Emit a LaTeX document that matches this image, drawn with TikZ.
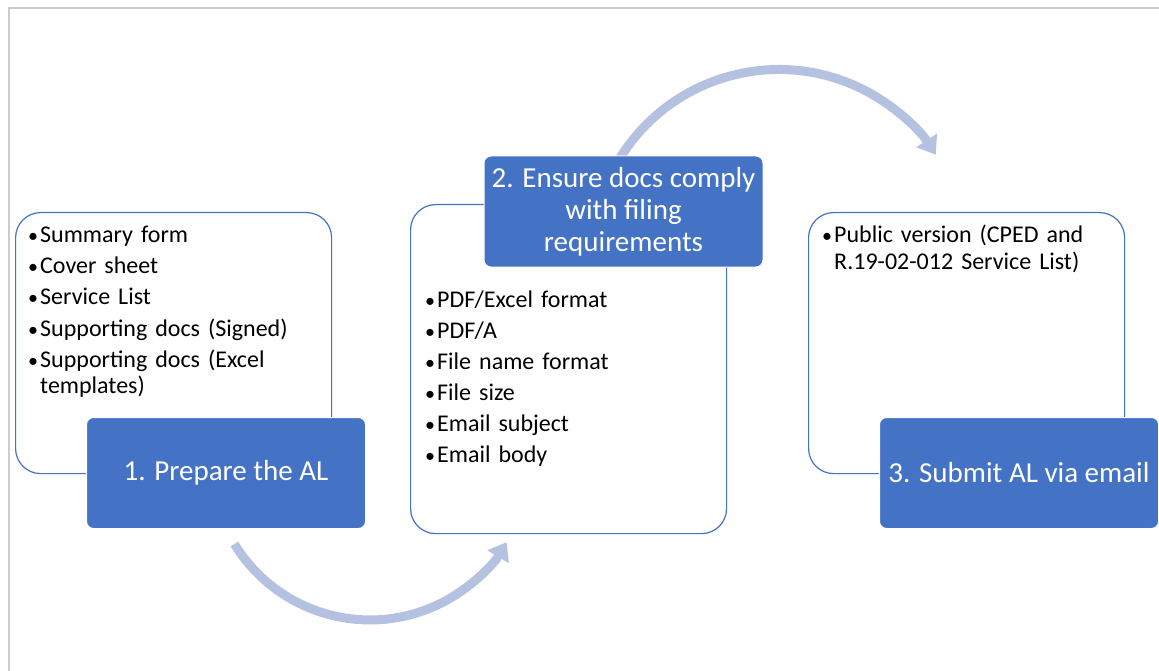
\documentclass[tikz,border=0pt]{standalone}
\usepackage{fontspec}
\setmainfont{Carlito}
\usetikzlibrary{arrows.meta,positioning}
\definecolor{stepblue}{HTML}{4472C4}
\definecolor{flowblue}{HTML}{B4C1E1}
\newcommand{\bl}{\makebox[13pt][l]{\hspace{1pt}{\fontsize{20}{20}\selectfont\textbullet}}}

\begin{document}
\begin{tikzpicture}[x=1pt,y=-1pt,
  card/.style={draw=stepblue, line width=1.2pt, fill=white, rounded corners=25pt,
    anchor=north west, inner sep=0pt, minimum width=316pt},
  tag/.style={draw=white, line width=1pt, fill=stepblue, rounded corners=7pt, text=white,
    minimum width=279pt, minimum height=111pt, align=center, inner sep=2pt,
    font=\fontsize{29}{32}\selectfont},
  items/.style={anchor=base west, text width=290pt, align=left, inner sep=0pt,
    font=\fontsize{24}{27}\selectfont},
  flow/.style={draw=flowblue, line width=9pt, -{Triangle[width=24pt,length=17pt]}}]
  \useasboundingbox (0,0) rectangle (1159,671);
  \draw[black!20, line width=2pt] (9,671) -- (9,8) -- (1159,8);

  % white cards
  \node[card, minimum height=261pt] (c1) at (15,212) {};
  \node[card, minimum height=329pt] (c2) at (410,204) {};
  \node[card, minimum height=261pt] (c3) at (808,212) {};

  % card contents
  \node[items] (i1) at (27,243) {\bl Summary form\\[4pt]
    \bl Cover sheet\\[4pt]
    \bl Service List\\[4pt]
    \bl Supporting docs (Signed)\\[4pt]
    \bl Supporting docs (Excel\\
    \hspace*{13pt}templates)};
  \node[items] (i2) at (424,307) {\bl PDF/Excel format\\[4pt]
    \bl PDF/A\\[4pt]
    \bl File name format\\[4pt]
    \bl File size\\[4pt]
    \bl Email subject\\[4pt]
    \bl Email body};
  \node[items] (i3) at (821,243) {\bl Public version (CPED and\\
    \hspace*{13pt}R.19-02-012 Service List)};

  % arrows between steps
  \coordinate (s1) at (234.4,544);
  \coordinate (s2) at (617,163);
  \draw[flow] (s1) arc[start angle=148.5, end angle=30.7, radius=159];
  \draw[flow] (s2) arc[start angle=-150, end angle=-33, radius=187];

  % step labels
  \node[tag] (t1) at (226,473) {1. Prepare the AL};
  \node[tag] (t2) at (623.5,211.5) {2. Ensure docs comply\\with filing\\requirements};
  \node[tag] (t3) at (1019,473) {3. Submit AL via email};
\end{tikzpicture}
\end{document}
